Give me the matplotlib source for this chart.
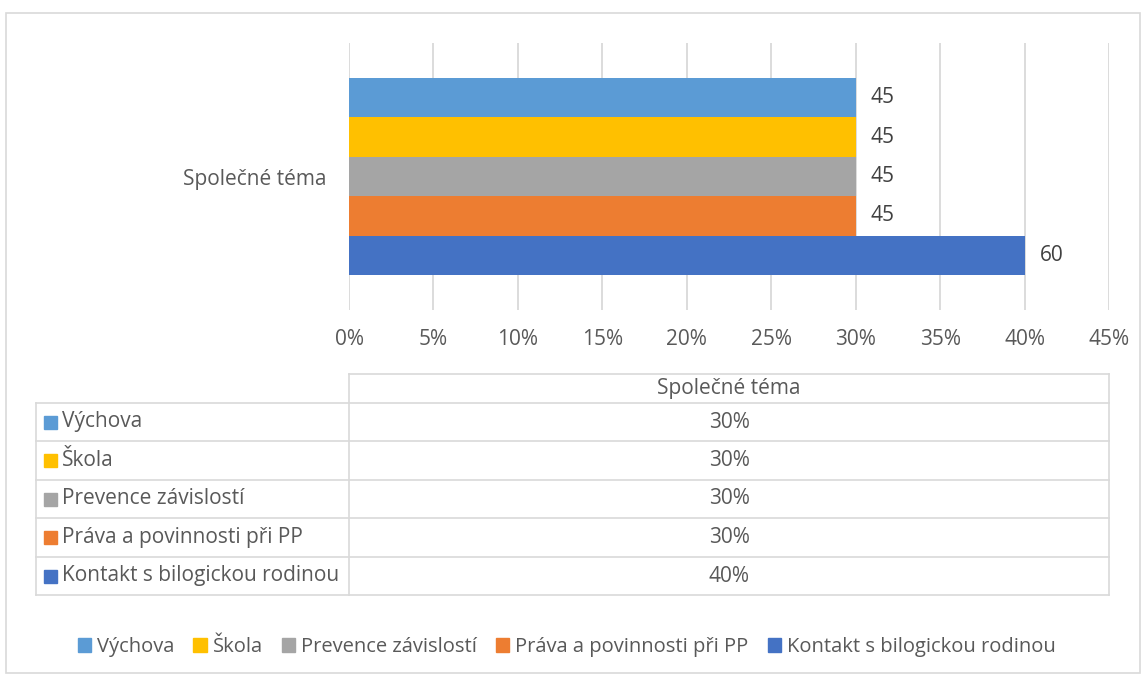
import matplotlib
matplotlib.use("Agg")
import matplotlib.pyplot as plt
from matplotlib.patches import Rectangle
from matplotlib.lines import Line2D

category = "Společné téma"
series = ["Výchova", "Škola", "Prevence závislostí", "Práva a povinnosti při PP", "Kontakt s bilogickou rodinou"]
values = [30, 30, 30, 30, 40]
bar_labels = ["45", "45", "45", "45", "60"]
table_values = ["30%", "30%", "30%", "30%", "40%"]
colors = ["#5B9BD5", "#FFC000", "#A5A5A5", "#ED7D31", "#4472C4"]
xticks = [0, 5, 10, 15, 20, 25, 30, 35, 40, 45]

W, H = 1147, 680
TXT = "#595959"
GRID = "#D9D9D9"
FONT = "Open Sans"
FS = 15

plt.rcParams['font.family'] = [FONT, 'DejaVu Sans']

fig = plt.figure(figsize=(W / 100, H / 100), dpi=100)

# outer chart border
fig.patches.append(Rectangle((6 / W, 1 - 673 / H), (1140 - 6) / W, (673 - 13) / H,
                             transform=fig.transFigure, fill=False, edgecolor=GRID, lw=1.2))

# main bar axes
L, R, T, B = 349, 1109, 43, 310
ax = fig.add_axes([L / W, 1 - B / H, (R - L) / W, (B - T) / H])
n = len(series)
ypos = [(n - 1) / 2 - i for i in range(n)]
ax.barh(ypos, values, height=1.0, color=colors, zorder=2)
for y, v, lab in zip(ypos, values, bar_labels):
    ax.annotate(lab, (v, y), xytext=(11, 0), textcoords="offset points",
                va="center", ha="left", fontsize=FS, color="#404040")
ax.set_xlim(0, 45)
span = (B - T) / ((275 - 78) / n)
ax.set_ylim(-span / 2, span / 2)
ax.set_xticks(xticks)
ax.set_xticklabels([f"{t}%" for t in xticks], fontsize=FS, color=TXT)
ax.set_yticks([0])
ax.set_yticklabels([category], fontsize=FS, color=TXT)
ax.tick_params(length=0)
ax.tick_params(axis="x", pad=14)
ax.tick_params(axis="y", pad=16)
ax.grid(axis="x", color=GRID, lw=1.3, zorder=0)
for s in ax.spines.values():
    s.set_visible(False)

# data table (pixel coordinate overlay)
tx = fig.add_axes([0, 0, 1, 1])
tx.set_xlim(0, W)
tx.set_ylim(H, 0)
tx.axis("off")
tL, tM, tR = 36, 349, 1109
rows_y = [403, 441, 480, 518, 557, 595]
hy = 374
lw = 1.2
tx.add_line(Line2D([tM, tR], [hy, hy], color=GRID, lw=lw))
for y in rows_y:
    tx.add_line(Line2D([tL, tR], [y, y], color=GRID, lw=lw))
tx.add_line(Line2D([tL, tL], [rows_y[0], rows_y[-1]], color=GRID, lw=lw))
tx.add_line(Line2D([tM, tM], [hy, rows_y[-1]], color=GRID, lw=lw))
tx.add_line(Line2D([tR, tR], [hy, rows_y[-1]], color=GRID, lw=lw))
tx.text((tM + tR) / 2, (hy + rows_y[0]) / 2, category, ha="center", va="center",
        fontsize=FS, color=TXT)
for i, (name, val, c) in enumerate(zip(series, table_values, colors)):
    yc = (rows_y[i] + rows_y[i + 1]) / 2
    tx.add_patch(Rectangle((44, yc - 6.5), 13, 13, color=c))
    tx.text(62, yc, name, ha="left", va="center", fontsize=FS, color=TXT)
    tx.text((tM + tR) / 2, yc, val, ha="center", va="center", fontsize=FS, color=TXT)

# legend
handles = [Rectangle((0, 0), 1, 1, color=c) for c in colors]
fig.legend(handles, series, loc="center", bbox_to_anchor=(0.494, 1 - 647 / H), ncol=n,
           frameon=False, fontsize=14.5, labelcolor=TXT, handlelength=0.65, handleheight=0.65,
           handletextpad=0.3, columnspacing=0.95)

fig.savefig("out.png", dpi=100)
